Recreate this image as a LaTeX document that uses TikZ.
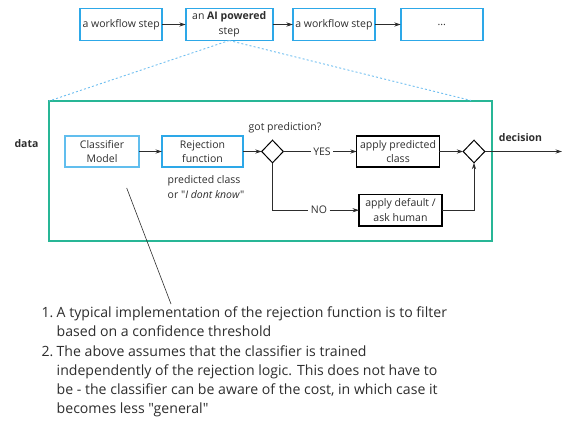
\documentclass[tikz,border=0pt]{standalone}
\usepackage{fontspec}
\setmainfont{Open Sans}[Ligatures=TeXOff]
\usetikzlibrary{arrows.meta,shapes.geometric}
\definecolor{wfblue}{RGB}{45,168,232}
\definecolor{lightblue}{RGB}{110,190,240}
\definecolor{tealgreen}{RGB}{40,182,150}
\definecolor{inkgray}{RGB}{45,45,45}
\begin{document}
\begin{tikzpicture}[x=1pt,y=-1pt,
  every node/.style={inner sep=0pt, outer sep=0pt, text=inkgray},
  dfont/.style={font=\fontsize{10.5}{14.5}\selectfont},
  bluebox/.style={draw=wfblue, line width=1.6pt, dfont, align=center, minimum height=32pt},
  thinblue/.style={draw=wfblue!75, line width=1.1pt, dfont, align=center, minimum height=31pt},
  blackbox/.style={draw=black, line width=1.3pt, dfont, align=center, minimum height=31pt},
  decision/.style={diamond, draw=black, line width=1pt, minimum width=21.6pt, minimum height=22.6pt},
  conn/.style={draw=inkgray, line width=0.8pt, -{Stealth[length=6.5pt,width=4.2pt]}},
  plain/.style={draw=inkgray, line width=0.8pt},
  dotline/.style={draw=lightblue, line width=0.9pt, dash pattern=on 2pt off 2.2pt},
  lbl/.style={dfont, inner xsep=2.5pt},
  listtext/.style={font=\fontsize{14.1}{19}\selectfont, anchor=base west}
]
\useasboundingbox (0,0) rectangle (564,421);

% top workflow
\node[bluebox, minimum width=82pt] (s1) at (121.2,24.5) {a workflow step};
\node[bluebox, minimum width=87pt] (s2) at (229.2,24.5) {an \textbf{AI powered}\\step};
\node[bluebox, minimum width=82pt] (s3) at (333.9,24.5) {a workflow step};
\node[bluebox, minimum width=82pt] (s4) at (441.7,24.5) {...};
\draw[conn] (s1) -- (s2);
\draw[conn] (s2) -- (s3);
\draw[conn] (s3) -- (s4);

% green frame
\node[draw=tealgreen, line width=1.4pt, minimum width=443pt, minimum height=140pt] (gbox) at (270.5,171) {};
\coordinate (dr) at (471,100.5);
\draw[dotline] (s2.south) -- (gbox.north west);
\draw[dotline] (s2.south) -- (dr);

\node[font=\fontsize{10.5}{14.5}\selectfont\bfseries] (data) at (26.5,144) {data};
\node[font=\fontsize{10.5}{14.5}\selectfont\bfseries] (dec) at (520.5,138) {decision};

% inner flow
\node[thinblue, minimum width=74pt] (cm) at (102,151.5) {Classifier\\Model};
\node[bluebox, minimum width=81pt, minimum height=31pt] (rf) at (202.5,151.5) {Rejection\\function};
\node[decision] (d1) at (272.5,151.5) {};
\node[blackbox, minimum width=82.6pt] (ap) at (398,151.5) {apply predicted\\class};
\node[decision] (d2) at (474,151.5) {};
\node[blackbox, minimum width=83pt, minimum height=31.7pt] (ad) at (400.5,210.2) {apply default /\\ask human};
\coordinate (out) at (562,151.5);

\node[dfont] (gp) at (285,128) {got prediction?};
\node[lbl] (yes) at (322,151.5) {YES};
\node[lbl] (no) at (319,210.2) {NO};
\node[dfont, align=left, anchor=north west] (pc) at (167.7,176) {predicted class\\or "\textit{I dont know}"};

\draw[conn] (cm) -- (rf);
\draw[conn] (rf) -- (d1);
\draw[plain] (d1) -- (yes);
\draw[conn] (yes) -- (ap);
\draw[conn] (ap) -- (d2);
\draw[plain] (d1.south) |- (no);
\draw[conn] (no) -- (ad);
\draw[conn] (ad.east) -| (d2.south);
\draw[conn] (d2.east) -- (out);

% pointer line
\coordinate (la) at (126.7,188);
\coordinate (lb) at (171,304);
\draw[draw=inkgray, line width=0.6pt] (la) -- (lb);

% notes
\node[listtext] (n1) at (41.5,317.5) {1.};
\node[listtext] (l1) at (56.7,317.5) {A typical implementation of the rejection function is to filter};
\node[listtext] (l2) at (56.7,336.8) {based on a confidence threshold};
\node[listtext] (n2) at (41.5,356) {2.};
\node[listtext] (l3) at (56.7,356) {The above assumes that the classifier is trained};
\node[listtext] (l4) at (56.7,375.3) {independently of the rejection logic. This does not have to};
\node[listtext] (l5) at (56.7,394.5) {be - the classifier can be aware of the cost, in which case it};
\node[listtext] (l6) at (56.7,413.8) {becomes less "general"};
\end{tikzpicture}
\end{document}
